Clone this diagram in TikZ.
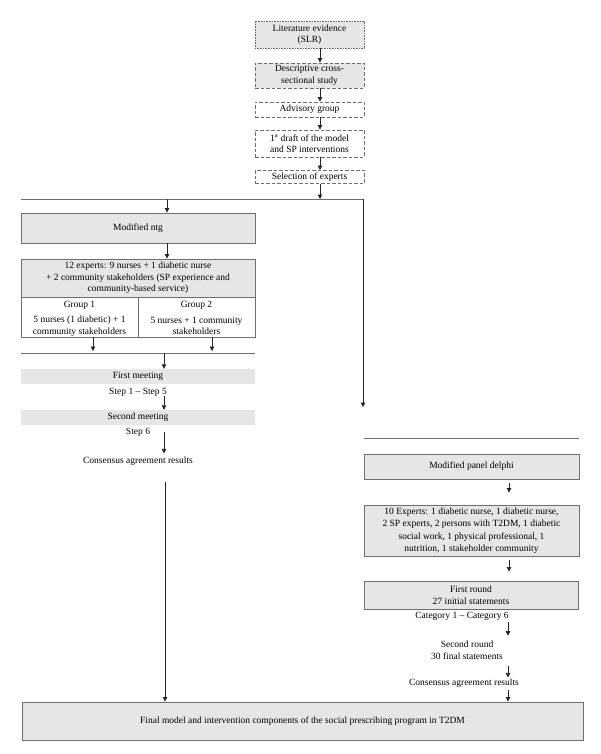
\documentclass[tikz,border=0pt]{standalone}
\usepackage{fontspec}
\setmainfont{Liberation Serif}
\usetikzlibrary{arrows.meta,calc}
\definecolor{boxfill}{HTML}{E6E6E6}
\definecolor{linegray}{HTML}{6E6E6E}
\begin{document}
\begin{tikzpicture}[x=1pt,y=-1pt,
  txt/.style={font=\fontsize{9.5}{11.5}\selectfont, align=center, inner sep=0pt},
  wbox/.style={txt, draw=linegray, line width=0.8pt},
  gbox/.style={wbox, fill=boxfill},
  dots/.style={dash pattern=on 0.8pt off 0.8pt},
  dsh/.style={dash pattern=on 3.5pt off 2pt},
  arr/.style={-{Triangle[length=4.5pt,width=4.5pt]}, line width=0.7pt, draw=black!85},
  ln/.style={line width=0.9pt, draw=linegray}
]
\useasboundingbox (0,0) rectangle (600,754);

% top chain
\node[gbox, dots, minimum width=109pt, minimum height=27pt] (b1) at (309.5,34.5) {Literature evidence\\(SLR)};
\node[gbox, dsh, minimum width=109pt, minimum height=25pt] (b2) at (309.5,75.5) {Descriptive cross-\\sectional study};
\node[wbox, dsh, minimum width=109pt, minimum height=15pt] (b3) at (309.5,109.5) {Advisory group};
\node[wbox, dsh, minimum width=109pt, minimum height=27pt] (b4) at (309.5,143.5) {1\textsuperscript{a} draft of the model\\and SP interventions};
\node[wbox, dsh, minimum width=109pt, minimum height=13pt] (b5) at (309.5,177) {Selection of experts};

\coordinate (ax) at (320,0);
\draw[arr] (b1.south -| ax) -- (b2.north -| ax);
\draw[arr] (b2.south -| ax) -- (b3.north -| ax);
\draw[arr] (b3.south -| ax) -- (b4.north -| ax);
\draw[arr] (b4.south -| ax) -- (b5.north -| ax);

\coordinate (sL) at (21,199);
\coordinate (sR) at (363,199);
\coordinate (sRend) at (363,407);
\draw[arr] (b5.south -| ax) -- (ax |- sL);
\draw[ln] (sL) -- (sR);
\draw[arr] (sR) -- (sRend);

% left branch
\node[gbox, minimum width=234pt, minimum height=30pt] (ntg) at (138,228) {Modified ntg};
\coordinate (lx) at (167,0);
\draw[arr] (lx |- sL) -- (ntg.north -| lx);

\node[gbox, minimum width=234pt, minimum height=38pt] (e12) at (138,278) {12 experts: 9 nurses + 1 diabetic nurse\\+ 2 community stakeholders (SP experience and\\community-based service)};
\draw[arr] (ntg.south -| lx) -- (e12.north -| lx);

\node[wbox, minimum width=117pt, minimum height=40pt] (g1) at (79.5,317) {};
\node[wbox, minimum width=117pt, minimum height=40pt] (g2) at (196.5,317) {};
\node[txt] (g1t) at (79.5,305) {Group 1};
\node[txt] (g1d) at (79.5,326) {5 nurses (1 diabetic) + 1\\community stakeholders};
\node[txt] (g2t) at (196.5,305) {Group 2};
\node[txt] (g2d) at (196.5,326) {5 nurses + 1 community\\stakeholders};

\coordinate (jL) at (21,353);
\coordinate (jR) at (255,353);
\coordinate (a1) at (93,0);
\coordinate (a2) at (212,0);
\draw[arr] (g1.south -| a1) -- ($(a1 |- jL)+(0,-2)$);
\draw[arr] (g2.south -| a2) -- ($(a2 |- jL)+(0,-2)$);
\draw[ln] (jL) -- (jR);

\node[txt, fill=boxfill, minimum width=234pt, minimum height=15pt] (m1) at (138,376.5) {First meeting};
\coordinate (mx) at (164,0);
\draw[arr] (mx |- jL) -- (m1.north -| mx);
\node[txt] (s15) at (138,392) {Step 1 – Step 5};
\node[txt, fill=boxfill, minimum width=234pt, minimum height=15pt] (m2) at (138,417.5) {Second meeting};
\draw[arr] (s15.south -| mx) -- (m2.north -| mx);
\node[txt] (s6) at (138,432) {Step 6};
\node[txt] (cl) at (138,461) {Consensus agreement results};
\draw[arr] (s6.center -| mx) -- ($(cl.north -| mx)+(0,-3)$);

% final box
\node[gbox, minimum width=561pt, minimum height=38pt] (fin) at (302.5,721) {Final model and intervention components of the social prescribing program in T2DM};
\coordinate (lx2) at (165,482);
\draw[arr] (lx2) -- (fin.north -| lx2);

% right branch
\coordinate (rL) at (364,438);
\coordinate (rR) at (579,438);
\draw[ln] (rL) -- (rR);
\node[gbox, minimum width=215pt, minimum height=25pt] (dp) at (471.5,466.5) {Modified panel delphi};
\coordinate (rx) at (509,0);
\node[gbox, font=\fontsize{9.5}{12.5}\selectfont, minimum width=215pt, minimum height=51pt] (e10) at (471.5,530.5) {10 Experts: 1 diabetic nurse, 1 diabetic nurse,\\2 SP experts, 2 persons with T2DM, 1 diabetic\\social work, 1 physical professional, 1\\nutrition, 1 stakeholder community};
\draw[arr] ($(dp.south -| rx)+(0,4)$) -- ($(e10.north -| rx)+(0,-12)$);
\node[gbox, minimum width=214pt, minimum height=28pt] (fr) at (471,595) {First round\\27 initial statements};
\draw[arr] ($(e10.south -| rx)+(0,4)$) -- ($(fr.north -| rx)+(0,-9)$);
\node[txt] (cat) at (462,616) {Category 1 – Category 6};
\coordinate (rx2) at (508,0);
\node[txt] (sr) at (467,650) {Second round\\30 final statements};
\draw[arr] ($(cat.south -| rx2)+(0,2)$) -- ($(sr.north -| rx2)+(0,-5)$);
\node[txt] (cr) at (464,683) {Consensus agreement results};
\draw[arr] ($(sr.south -| rx2)+(0,7)$) -- ($(cr.north -| rx2)+(0,-1)$);
\draw[arr] ($(cr.south -| rx2)+(0,2)$) -- (fin.north -| rx2);
\end{tikzpicture}
\end{document}
